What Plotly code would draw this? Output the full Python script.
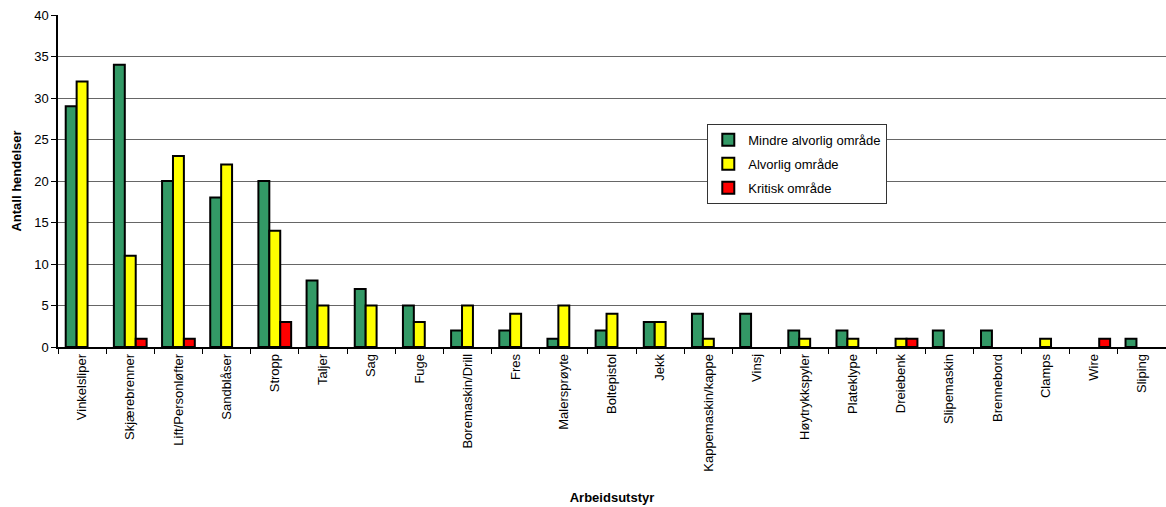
import plotly.graph_objects as go

categories = ["Vinkelsliper", "Skjærebrenner", "Lift/Personløfter", "Sandblåser", "Stropp",
              "Taljer", "Sag", "Fuge", "Boremaskin/Drill", "Fres", "Malersprøyte", "Boltepistol",
              "Jekk", "Kappemaskin/kappe", "Vinsj", "Høytrykkspyler", "Plateklype", "Dreiebenk",
              "Slipemaskin", "Brennebord", "Clamps", "Wire", "Sliping"]
mindre = [29, 34, 20, 18, 20, 8, 7, 5, 2, 2, 1, 2, 3, 4, 4, 2, 2, 0, 2, 2, 0, 0, 1]
alvorlig = [32, 11, 23, 22, 14, 5, 5, 3, 5, 4, 5, 4, 3, 1, 0, 1, 1, 1, 0, 0, 1, 0, 0]
kritisk = [0, 1, 1, 0, 3, 0, 0, 0, 0, 0, 0, 0, 0, 0, 0, 0, 0, 1, 0, 0, 0, 1, 0]
series_names = ["Mindre alvorlig område", "Alvorlig område", "Kritisk område"]
colors = ["#339966", "#FFFF00", "#FF0000"]

fig = go.Figure()
for i, (name, vals, col) in enumerate(zip(series_names, [mindre, alvorlig, kritisk], colors)):
    fig.add_trace(go.Bar(
        x=categories, y=[v if v > 0 else None for v in vals], name=name,
        legendgroup=f"g{i}",
        marker=dict(color=col, line=dict(color="black", width=2)),
    ))

font_family = "Liberation Sans, Arial, sans-serif"
fs = 13
fig.update_layout(
    width=1166, height=507,
    margin=dict(l=58, r=0, t=15, b=160),
    paper_bgcolor="white", plot_bgcolor="white",
    barmode="group", bargap=0.32, bargroupgap=0,
    font=dict(family=font_family, size=fs, color="black"),
    showlegend=True,
    legend=dict(x=0.586, y=0.672, xanchor="left", yanchor="top",
                bordercolor="#333", borderwidth=1, bgcolor="white",
                font=dict(size=fs), tracegroupgap=4, itemwidth=30),
    xaxis=dict(
        title=dict(text="<b>Arbeidsutstyr</b>", font=dict(size=fs), standoff=22),
        tickangle=-90, ticks="outside", ticklen=5, tickcolor="black",
        tickson="boundaries", showline=True, linecolor="black", linewidth=1.5,
        showgrid=False, tickfont=dict(size=fs),
    ),
    yaxis=dict(
        title=dict(text="<b>Antall hendelser</b>", font=dict(size=fs), standoff=10),
        range=[0, 40], dtick=5, ticks="outside", ticklen=5, tickcolor="black",
        showline=True, linecolor="black", linewidth=1.5,
        showgrid=True, gridcolor="#666", gridwidth=1, zeroline=False,
        tickfont=dict(size=fs),
    ),
)
fig.write_html("out.html")
